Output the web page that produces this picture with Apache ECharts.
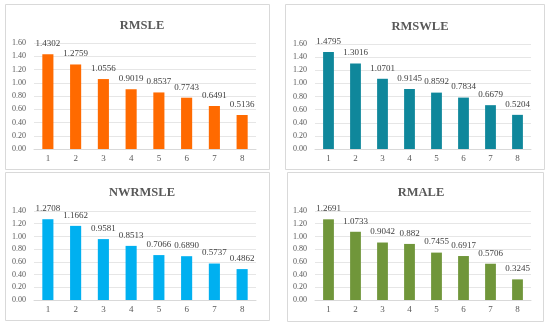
<!DOCTYPE html>
<html>
<head>
<meta charset="utf-8">
<script src="https://cdn.jsdelivr.net/npm/echarts@6/dist/echarts.min.js"></script>
<style>html,body{margin:0;padding:0;background:#fff}#c{width:550px;height:326px}</style>
</head>
<body>
<div id="c"></div>
<script>
const categories = ['1','2','3','4','5','6','7','8'];
const titles = ['RMSLE','RMSWLE','NWRMSLE','RMALE'];
const rmsle = [1.4302, 1.2759, 1.0556, 0.9019, 0.8537, 0.7743, 0.6491, 0.5136];
const rmswle = [1.4795, 1.3016, 1.0701, 0.9145, 0.8592, 0.7834, 0.6679, 0.5204];
const nwrmsle = [1.2708, 1.1662, 0.9581, 0.8513, 0.7066, 0.6890, 0.5737, 0.4862];
const rmale = [1.2691, 1.0733, 0.9042, 0.882, 0.7455, 0.6917, 0.5706, 0.3245];
const labelTexts = [
  ['1.4302','1.2759','1.0556','0.9019','0.8537','0.7743','0.6491','0.5136'],
  ['1.4795','1.3016','1.0701','0.9145','0.8592','0.7834','0.6679','0.5204'],
  ['1.2708','1.1662','0.9581','0.8513','0.7066','0.6890','0.5737','0.4862'],
  ['1.2691','1.0733','0.9042','0.882','0.7455','0.6917','0.5706','0.3245']
];
const yMax = [1.6, 1.6, 1.4, 1.4];

const seriesData = [rmsle, rmswle, nwrmsle, rmale];
const colors = ['#FF6A00', '#0F879B', '#00B0F0', '#70963A'];
const grids = [
  {left: 34, right: 294, top: 43, bottom: 177},
  {left: 315, right: 19, top: 44, bottom: 177},
  {left: 34, right: 294, top: 211, bottom: 26},
  {left: 315, right: 19, top: 211, bottom: 26}
];
const boxes = [
  [5, 4, 264, 165],
  [285, 4, 259, 165],
  [5, 172, 264, 148],
  [287, 172, 256, 149]
];
const titlePos = [[137, 14], [415, 15], [137, 181], [416, 181]];
const font = '"Liberation Serif", "Times New Roman", serif';

const chart = echarts.init(document.getElementById('c'), null, {renderer: 'canvas'});
const option = {
  animation: false,
  backgroundColor: '#fff',
  graphic: boxes.map(b => ({
    type: 'rect', shape: {x: b[0] + 0.5, y: b[1] + 0.5, width: b[2], height: b[3]},
    style: {fill: 'none', stroke: '#d9d9d9', lineWidth: 1}, z: -1
  })),
  title: titles.map((t, i) => ({
    text: t, left: titlePos[i][0], top: titlePos[i][1], textAlign: 'center',
    textStyle: {fontFamily: font, fontSize: 12.5, fontWeight: 'bold', color: '#595959'}
  })),
  grid: grids,
  xAxis: grids.map((g, i) => ({
    type: 'category', gridIndex: i, data: categories,
    axisLine: {lineStyle: {color: '#d9d9d9'}},
    axisTick: {show: false},
    axisLabel: {fontFamily: font, fontSize: 9, color: '#595959', margin: 5}
  })),
  yAxis: grids.map((g, i) => ({
    type: 'value', gridIndex: i, min: 0, max: yMax[i], interval: 0.2,
    axisLine: {show: false}, axisTick: {show: false},
    splitLine: {lineStyle: {color: '#e6e6e6'}},
    axisLabel: {fontFamily: font, fontSize: 8, color: '#595959', margin: 8,
      formatter: v => v.toFixed(2)}
  })),
  series: seriesData.map((d, i) => ({
    type: 'bar', xAxisIndex: i, yAxisIndex: i, data: d, barWidth: '40%',
    itemStyle: {color: colors[i]},
    label: {show: true, position: 'top', distance: 6, fontFamily: font, fontSize: 9,
      color: '#404040', formatter: p => labelTexts[i][p.dataIndex]}
  }))
};
chart.setOption(option);
</script>
</body>
</html>
